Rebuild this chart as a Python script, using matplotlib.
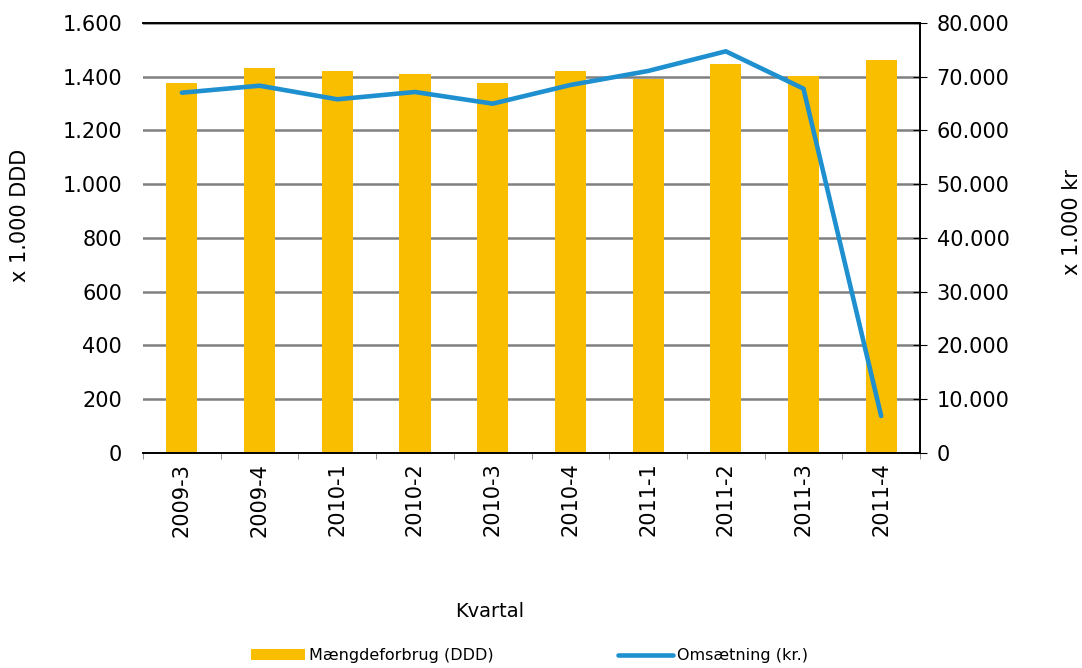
import matplotlib
matplotlib.use('Agg')
import matplotlib.pyplot as plt
import numpy as np
from matplotlib.ticker import FuncFormatter, MultipleLocator

kvartal = ['2009-3', '2009-4', '2010-1', '2010-2', '2010-3',
           '2010-4', '2011-1', '2011-2', '2011-3', '2011-4']
maengde = [1376, 1431, 1421, 1411, 1376, 1420, 1392, 1447, 1403, 1462]
omsaetning = [67030, 68330, 65800, 67160, 64990, 68460, 71070, 74730, 67780, 6880]

bar_color = '#F9BE00'
line_color = '#1E90D0'

plt.rcParams['font.family'] = 'DejaVu Sans'
plt.rcParams['font.size'] = 15

def dk(v, pos=None):
    return f'{int(v):,}'.replace(',', '.')

fig = plt.figure(figsize=(10.82, 6.68), dpi=100)
ax = fig.add_axes([0.1322, 0.3219, 0.8503 - 0.1322, 0.9656 - 0.3219])
ax2 = ax.twinx()

x = np.arange(len(kvartal))
ax.bar(x, maengde, width=0.4, color=bar_color, zorder=2, label='Mængdeforbrug (DDD)')
ax2.plot(x, omsaetning, color=line_color, lw=3.3, solid_capstyle='round',
         label='Omsætning (kr.)')

ax.set_ylim(0, 1600)
ax.yaxis.set_major_locator(MultipleLocator(200))
ax.yaxis.set_major_formatter(FuncFormatter(dk))
ax2.set_ylim(0, 80000)
ax2.yaxis.set_major_locator(MultipleLocator(10000))
ax2.yaxis.set_major_formatter(FuncFormatter(dk))

ax.grid(axis='y', color='#808080', lw=1.8, zorder=0)
ax.set_axisbelow(True)
ax.set_xlim(-0.5, len(kvartal) - 0.5)
ax.set_xticks(x)
ax.set_xticklabels(kvartal, rotation=90)
ax.tick_params(axis='x', which='major', length=0, pad=7)
ax.set_xticks(np.arange(-0.5, len(kvartal)), minor=True)
ax.tick_params(axis='x', which='minor', length=4.5, color='#808080')
ax.tick_params(axis='y', length=0, pad=15)
ax2.tick_params(axis='y', length=10, direction='inout', pad=7)

for a in (ax, ax2):
    a.spines['left'].set_visible(False)
    for s in ('top', 'bottom', 'right'):
        a.spines[s].set_color('black')
        a.spines[s].set_linewidth(1.2)

fig.text(0.0185, 0.678, 'x 1.000 DDD', rotation=90, ha='center', va='center')
fig.text(0.9908, 0.668, 'x 1.000 kr', rotation=90, ha='center', va='center')
fig.text(0.453, 0.084, 'Kvartal', ha='center', va='center', fontsize=14)

h1, l1 = ax.get_legend_handles_labels()
h2, l2 = ax2.get_legend_handles_labels()
fig.legend(h1 + h2, l1 + l2, loc='center', bbox_to_anchor=(0.489, 0.018),
           ncol=2, frameon=False, handlelength=3.4, handletextpad=0.25,
           columnspacing=7.8, fontsize=11.5)

fig.savefig('out.png', dpi=100)
